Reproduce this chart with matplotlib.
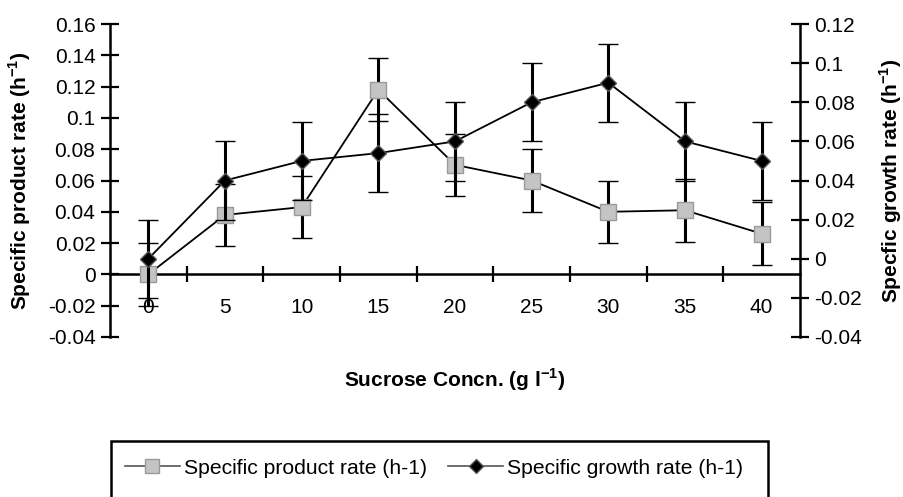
import matplotlib
matplotlib.use("Agg")
import matplotlib.pyplot as plt
from matplotlib.lines import Line2D
from matplotlib.patches import Rectangle
from matplotlib.ticker import FixedLocator, FuncFormatter, NullFormatter

plt.rcParams['font.family'] = ['Liberation Sans', 'DejaVu Sans']
plt.rcParams['axes.unicode_minus'] = False
plt.rcParams['mathtext.fontset'] = 'custom'
plt.rcParams['mathtext.rm'] = 'Liberation Sans'
plt.rcParams['mathtext.bf'] = 'Liberation Sans:bold'

# values
sucrose = [0, 5, 10, 15, 20, 25, 30, 35, 40]
product_rate = [0.0, 0.038, 0.043, 0.118, 0.070, 0.060, 0.040, 0.041, 0.026]
product_err = [0.02] * 9
growth_rate = [0.0, 0.040, 0.050, 0.054, 0.060, 0.080, 0.090, 0.060, 0.050]
growth_err = [0.02] * 9

left_ticks = [-0.04, -0.02, 0, 0.02, 0.04, 0.06, 0.08, 0.1, 0.12, 0.14, 0.16]
right_ticks = [-0.04, -0.02, 0, 0.02, 0.04, 0.06, 0.08, 0.1, 0.12]

fs = 15
fig = plt.figure(figsize=(9.04, 4.97), dpi=100)
ax = fig.add_axes([110/904, 1 - 337/497, 690/904, 313/497])
ax2 = ax.twinx()

sq_face = '#c4c4c4'
sq_edge = '#9a9a9a'

# product rate (left axis)
ax.errorbar(sucrose, product_rate, yerr=product_err, color='black', lw=1.3,
            ecolor='black', elinewidth=2.2, capsize=7, capthick=2.2,
            marker='s', ms=11, mfc=sq_face, mec=sq_edge, mew=1, zorder=3)
# growth rate (right axis)
ax2.errorbar(sucrose, growth_rate, yerr=growth_err, color='black', lw=1.3,
             ecolor='black', elinewidth=2.2, capsize=7, capthick=2.2,
             marker='D', ms=8, mfc='black', mec='#555555', mew=1, zorder=3)

ax.set_xlim(-2.5, 42.5)
ax.set_ylim(-0.04, 0.16)
ax2.set_ylim(-0.04, 0.12)

fmt = FuncFormatter(lambda v, p: f"{v:g}")

# category boundaries as tick marks, labels at the category centres
ax.xaxis.set_major_locator(FixedLocator([2.5 + 5 * i for i in range(8)]))
ax.xaxis.set_major_formatter(NullFormatter())
ax.xaxis.set_minor_locator(FixedLocator(sucrose))
ax.xaxis.set_minor_formatter(FuncFormatter(lambda v, p: f"{v:g}"))
ax.tick_params(axis='x', which='major', direction='inout', length=12, width=1.6)
ax.tick_params(axis='x', which='minor', length=0, pad=17, labelsize=fs)

ax.yaxis.set_major_locator(FixedLocator(left_ticks))
ax.yaxis.set_major_formatter(fmt)
ax.tick_params(axis='y', direction='inout', length=13, width=1.6, labelsize=fs, pad=4)
ax2.yaxis.set_major_locator(FixedLocator(right_ticks))
ax2.yaxis.set_major_formatter(fmt)
ax2.tick_params(axis='y', direction='inout', length=13, width=1.6, labelsize=fs, pad=4)

ax.spines['bottom'].set_position(('data', 0))
ax.spines['top'].set_visible(False)
ax.spines['right'].set_visible(False)
for s in ['top', 'bottom', 'left']:
    ax2.spines[s].set_visible(False)
for s in [ax.spines['left'], ax.spines['bottom'], ax2.spines['right']]:
    s.set_linewidth(1.8)

ax.set_ylabel(r'Specific product rate (h$^{\mathbf{-1}}$)', fontsize=fs, fontweight='bold')
ax.yaxis.set_label_coords(-0.112, 0.5)
ax2.set_ylabel(r'Specfic growth rate (h$^{\mathbf{-1}}$)', fontsize=fs, fontweight='bold',
               rotation=90)
ax2.yaxis.set_label_coords(1.112, 0.5)
ax.set_xlabel(r'Sucrose Concn. (g l$^{\mathbf{-1}}$)', fontsize=fs, fontweight='bold')
ax.xaxis.set_label_coords(0.5, -0.093)

# legend, frame runs off the bottom like in the scan
handles = [
    Line2D([], [], color='#555555', lw=1.2, marker='s', ms=10, mfc=sq_face, mec=sq_edge),
    Line2D([], [], color='#555555', lw=1.2, marker='D', ms=7, mfc='black', mec='#555555'),
]
fig.legend(handles, ['Specific product rate (h-1)', 'Specific growth rate (h-1)'],
           loc='center left', bbox_to_anchor=(125/904, 1 - 468/497), ncol=2,
           frameon=False, fontsize=15.2, handlelength=2.6, handletextpad=0.2,
           columnspacing=1.0, borderpad=0, borderaxespad=0)
fig.patches.append(Rectangle((111/904, -0.05), (768 - 111)/904, 0.05 + 1 - 441/497,
                             transform=fig.transFigure, fill=False, ec='black', lw=1.8))

fig.savefig('out.png', dpi=100)
